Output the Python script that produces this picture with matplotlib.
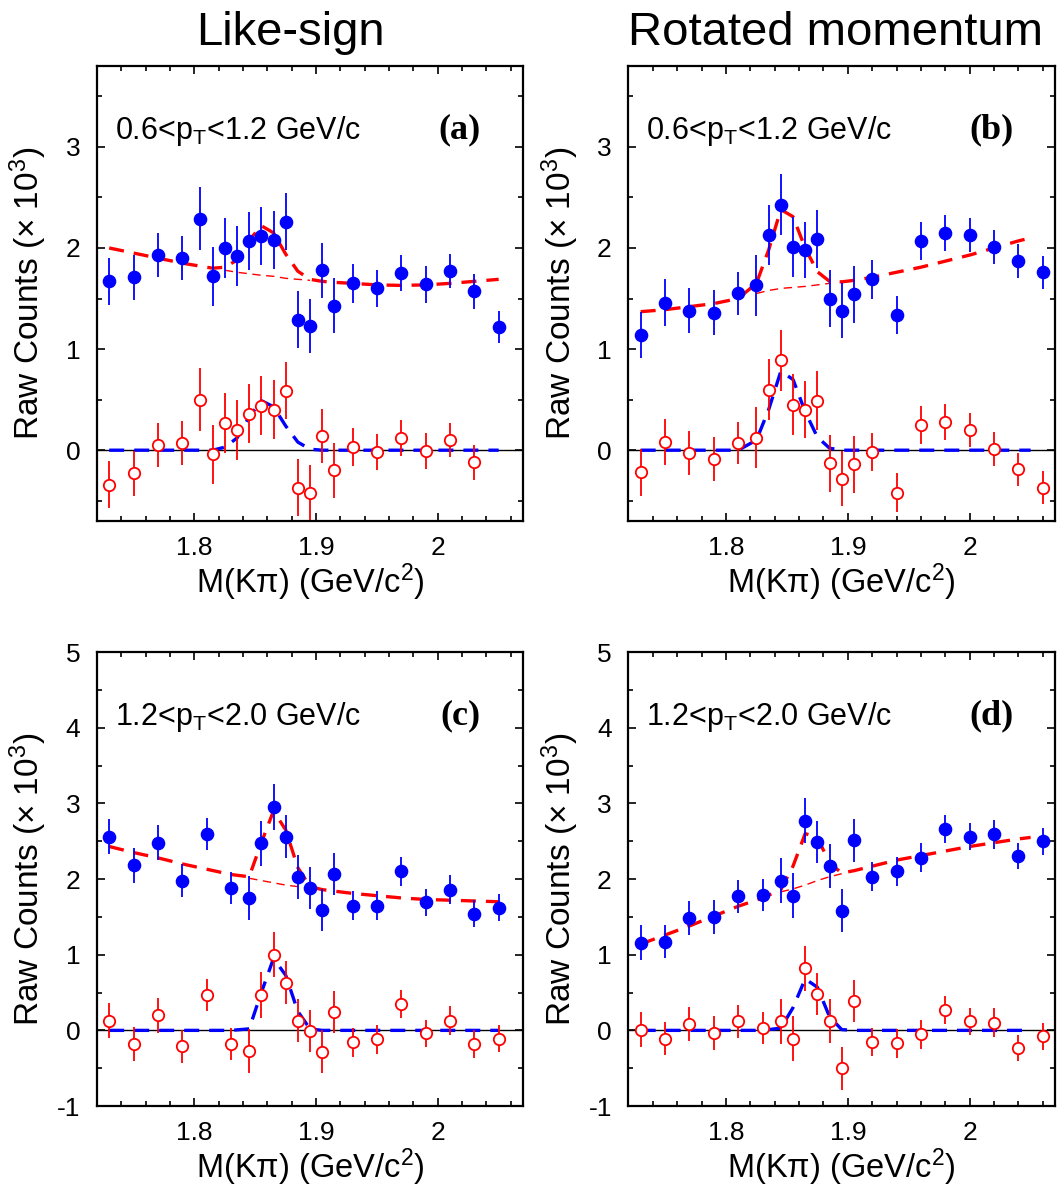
import matplotlib.pyplot as plt
from matplotlib.ticker import MultipleLocator, FuncFormatter

plt.rcParams['font.family'] = ['Liberation Sans', 'DejaVu Sans']
plt.rcParams['mathtext.fontset'] = 'custom'
plt.rcParams['mathtext.rm'] = 'Liberation Sans'
plt.rcParams['mathtext.it'] = 'Liberation Sans'
plt.rcParams['mathtext.bf'] = 'Liberation Sans:bold'

# ---- panel (a): like-sign, 0.6<pT<1.2 ----
xa = [1.73, 1.75, 1.77, 1.79, 1.805, 1.815, 1.825, 1.835, 1.845, 1.855, 1.865, 1.875,
      1.885, 1.895, 1.905, 1.915, 1.93, 1.95, 1.97, 1.99, 2.01, 2.03, 2.05]
ya_tot = [1.67, 1.71, 1.93, 1.90, 2.29, 1.72, 2.00, 1.92, 2.07, 2.12, 2.08, 2.26,
          1.29, 1.23, 1.78, 1.43, 1.65, 1.60, 1.75, 1.64, 1.77, 1.57, 1.22]
ea = [0.23, 0.225, 0.22, 0.22, 0.31, 0.29, 0.30, 0.30, 0.29, 0.29, 0.29, 0.28,
      0.28, 0.27, 0.27, 0.27, 0.19, 0.18, 0.18, 0.18, 0.17, 0.17, 0.16]
ya_sig = [-0.34, -0.23, 0.05, 0.07, 0.50, -0.04, 0.27, 0.20, 0.36, 0.44, 0.40, 0.59,
          -0.37, -0.42, 0.14, -0.20, 0.03, -0.02, 0.12, -0.01, 0.10, -0.12]
fa_x = xa
fa_bkg = [2.00, 1.95, 1.90, 1.85, 1.82, 1.80, 1.78, 1.76, 1.745, 1.73, 1.72, 1.70,
          1.69, 1.68, 1.67, 1.66, 1.65, 1.635, 1.63, 1.635, 1.65, 1.67, 1.69]
fa_sig = [0, 0, 0, 0, 0, 0, 0.03, 0.12, 0.33, 0.49, 0.43, 0.24,
          0.08, 0.01, 0, 0, 0, 0, 0, 0, 0, 0, 0]

# ---- panel (b): rotated momentum, 0.6<pT<1.2 ----
xb = [1.73, 1.75, 1.77, 1.79, 1.81, 1.825, 1.835, 1.845, 1.855, 1.865, 1.875, 1.885,
      1.895, 1.905, 1.92, 1.94, 1.96, 1.98, 2.00, 2.02, 2.04, 2.06]
yb_tot = [1.14, 1.46, 1.38, 1.36, 1.55, 1.63, 2.13, 2.43, 2.01, 1.98, 2.09, 1.50,
          1.38, 1.54, 1.69, 1.34, 2.07, 2.15, 2.13, 2.01, 1.87, 1.76]
eb = [0.23, 0.23, 0.22, 0.22, 0.21, 0.30, 0.30, 0.30, 0.30, 0.28, 0.29, 0.28,
      0.27, 0.28, 0.19, 0.19, 0.19, 0.18, 0.17, 0.17, 0.165, 0.165]
yb_sig = [-0.22, 0.08, -0.03, -0.085, 0.07, 0.125, 0.60, 0.89, 0.45, 0.40, 0.49, -0.13,
          -0.28, -0.14, -0.02, -0.42, 0.25, 0.28, 0.20, 0.01, -0.19, -0.37]
fb_x = [1.73, 1.75, 1.77, 1.79, 1.81, 1.825, 1.835, 1.845, 1.855, 1.865, 1.875, 1.885,
        1.895, 1.905, 1.92, 1.94, 1.96, 1.98, 2.00, 2.02, 2.04, 2.05]
fb_bkg = [1.37, 1.39, 1.42, 1.45, 1.50, 1.55, 1.58, 1.60, 1.61, 1.62, 1.635, 1.65,
          1.665, 1.68, 1.71, 1.76, 1.81, 1.87, 1.93, 2.00, 2.07, 2.10]
fb_sig = [0, 0, 0, 0, 0, 0.10, 0.40, 0.78, 0.70, 0.38, 0.13, 0.02,
          0, 0, 0, 0, 0, 0, 0, 0, 0, 0]

# ---- panel (c): like-sign, 1.2<pT<2.0 ----
xc = [1.73, 1.75, 1.77, 1.79, 1.81, 1.83, 1.845, 1.855, 1.865, 1.875, 1.885, 1.895,
      1.905, 1.915, 1.93, 1.95, 1.97, 1.99, 2.01, 2.03, 2.05]
yc_tot = [2.56, 2.18, 2.48, 1.98, 2.59, 1.88, 1.75, 2.47, 2.95, 2.56, 2.03, 1.88,
          1.59, 2.07, 1.65, 1.65, 2.10, 1.69, 1.86, 1.54, 1.62]
ec = [0.23, 0.23, 0.23, 0.22, 0.21, 0.21, 0.29, 0.30, 0.30, 0.285, 0.29, 0.28,
      0.28, 0.28, 0.19, 0.19, 0.19, 0.18, 0.19, 0.18, 0.18]
yc_sig = [0.13, -0.18, 0.20, -0.21, 0.47, -0.18, -0.27, 0.47, 1.00, 0.63, 0.13, -0.01,
          -0.28, 0.24, -0.16, -0.12, 0.35, -0.04, 0.13, -0.18, -0.11]
fc_x = xc
fc_bkg = [2.43, 2.35, 2.28, 2.20, 2.13, 2.06, 2.01, 1.98, 1.95, 1.92, 1.90, 1.88,
          1.86, 1.84, 1.81, 1.78, 1.75, 1.73, 1.72, 1.71, 1.70]
fc_sig = [0, 0, 0, 0, 0, 0, 0.02, 0.50, 0.95, 0.73, 0.25, 0.02,
          0, 0, 0, 0, 0, 0, 0, 0, 0]

# ---- panel (d): rotated momentum, 1.2<pT<2.0 ----
xd = [1.73, 1.75, 1.77, 1.79, 1.81, 1.83, 1.845, 1.855, 1.865, 1.875, 1.885, 1.895,
      1.905, 1.92, 1.94, 1.96, 1.98, 2.00, 2.02, 2.04, 2.06]
yd_tot = [1.16, 1.17, 1.49, 1.50, 1.77, 1.79, 1.98, 1.78, 2.77, 2.49, 2.17, 1.58,
          2.51, 2.03, 2.10, 2.28, 2.66, 2.56, 2.59, 2.30, 2.50]
ed = [0.23, 0.22, 0.225, 0.225, 0.22, 0.21, 0.30, 0.30, 0.30, 0.28, 0.29, 0.285,
      0.28, 0.19, 0.19, 0.19, 0.18, 0.18, 0.19, 0.17, 0.18]
yd_sig = [0.01, -0.11, 0.09, -0.03, 0.12, 0.03, 0.12, -0.11, 0.82, 0.48, 0.12, -0.50,
          0.39, -0.155, -0.17, -0.05, 0.27, 0.12, 0.10, -0.23, -0.08]
fd_x = [1.73, 1.75, 1.77, 1.79, 1.81, 1.83, 1.845, 1.855, 1.865, 1.875, 1.885, 1.895,
        1.905, 1.92, 1.94, 1.96, 1.98, 2.00, 2.02, 2.04, 2.05]
fd_bkg = [1.14, 1.26, 1.38, 1.51, 1.64, 1.75, 1.83, 1.87, 1.92, 1.98, 2.03, 2.07,
          2.11, 2.17, 2.25, 2.31, 2.37, 2.43, 2.48, 2.53, 2.55]
fd_sig = [0, 0, 0, 0, 0, 0, 0.03, 0.30, 0.68, 0.57, 0.18, 0.01,
          0, 0, 0, 0, 0, 0, 0, 0, 0]

pt_labels = ['0.6<p$_T$<1.2 GeV/c', '0.6<p$_T$<1.2 GeV/c',
             '1.2<p$_T$<2.0 GeV/c', '1.2<p$_T$<2.0 GeV/c']
tags = ['(a)', '(b)', '(c)', '(d)']
col_titles = ['Like-sign', 'Rotated momentum']


def draw_panel(ax, x, ytot, err, ysig, fx, fbkg, fsig, ylim, label, tag):
    ftot = [b + s for b, s in zip(fbkg, fsig)]
    ax.axhline(0, color='black', lw=1.0, zorder=1)
    ax.plot(fx, ftot, color='red', lw=2.4, ls=(0, (4.5, 3)), zorder=2)
    # background only under the peak
    bx = [xx for xx, s in zip(fx, fsig) if s > 0]
    by = [b for b, s in zip(fbkg, fsig) if s > 0]
    ax.plot(bx, by, color='red', lw=1.0, ls=(0, (6, 4)), zorder=2)
    ax.plot(fx, fsig, color='blue', lw=2.4, ls=(0, (4.5, 3)), zorder=2)
    ax.errorbar(x, ytot, yerr=err, fmt='o', color='blue', ms=8.8,
                elinewidth=1.3, capsize=0, zorder=4)
    n = len(ysig)
    ax.errorbar(x[:n], ysig, yerr=err[:n], fmt='o', color='red', mfc='white',
                mec='red', mew=1.3, ms=8.2, elinewidth=1.3, capsize=0, zorder=4)
    ax.set_xlim(1.72, 2.07)
    ax.set_ylim(*ylim)
    ax.xaxis.set_major_locator(MultipleLocator(0.1))
    ax.xaxis.set_minor_locator(MultipleLocator(0.02))
    ax.yaxis.set_major_locator(MultipleLocator(1))
    ax.yaxis.set_minor_locator(MultipleLocator(0.5))
    ax.xaxis.set_major_formatter(FuncFormatter(lambda v, p: '%g' % round(v, 2)))
    ax.yaxis.set_major_formatter(FuncFormatter(lambda v, p: '%g' % round(v, 2)))
    ax.tick_params(which='both', direction='in', top=True, right=True,
                   labelsize=19, width=1.2)
    ax.tick_params(axis='x', which='major', length=6, pad=11)
    ax.tick_params(axis='y', which='major', length=6, pad=12)
    ax.tick_params(which='minor', length=3.6)
    for sp in ax.spines.values():
        sp.set_linewidth(1.6)
    ax.set_xlabel('M(Kπ) (GeV/c$^2$)', fontsize=23.5)
    ax.set_ylabel('Raw Counts (× 10$^3$)', fontsize=24)
    ax.xaxis.set_label_coords(0.5, -0.088)
    ax.yaxis.set_label_coords(-0.112, 0.5)
    ax.text(0.042, 0.84, label, transform=ax.transAxes, fontsize=22,
            va='baseline', ha='left')
    ax.text(0.852, 0.84, tag, transform=ax.transAxes, fontsize=26,
            family='Liberation Serif', weight='bold', va='baseline', ha='center')


fig = plt.figure(figsize=(10.57, 11.87), dpi=100)
ax_a = fig.add_axes([0.0918, 0.5611, 0.4030, 0.3833])
ax_b = fig.add_axes([0.5946, 0.5611, 0.4035, 0.3833])
ax_c = fig.add_axes([0.0918, 0.0682, 0.4030, 0.3825])
ax_d = fig.add_axes([0.5946, 0.0682, 0.4035, 0.3825])

draw_panel(ax_a, xa, ya_tot, ea, ya_sig, fa_x, fa_bkg, fa_sig, (-0.7, 3.8), pt_labels[0], tags[0])
draw_panel(ax_b, xb, yb_tot, eb, yb_sig, fb_x, fb_bkg, fb_sig, (-0.7, 3.8), pt_labels[1], tags[1])
draw_panel(ax_c, xc, yc_tot, ec, yc_sig, fc_x, fc_bkg, fc_sig, (-1, 5), pt_labels[2], tags[2])
draw_panel(ax_d, xd, yd_tot, ed, yd_sig, fd_x, fd_bkg, fd_sig, (-1, 5), pt_labels[3], tags[3])

fig.text(290 / 1057, 1 - 33 / 1187, col_titles[0], fontsize=34, ha='center', va='center')
fig.text(836 / 1057, 1 - 33 / 1187, col_titles[1], fontsize=34, ha='center', va='center')

fig.savefig('out.png', dpi=100)
